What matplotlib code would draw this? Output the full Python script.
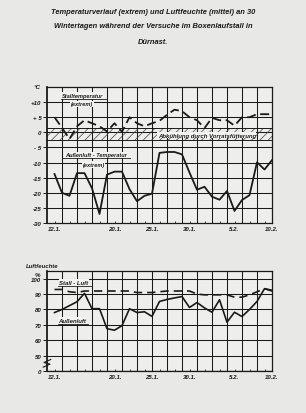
import numpy as np
import matplotlib.pyplot as plt

# days from 12.1. to 10.2.
days = np.arange(30)
tick_pos = [0, 8, 13, 18, 24, 29]
tick_lab = ['12.1.', '20.1.', '25.1.', '30.1.', '5.2.', '10.2.']

stall_temp = [5, 1.5, -2.2, 2, 4, 3, 2, 0.3, 3, 0.2, 5, 3, 2, 3, 3.8, 5.8, 7.5, 7,
              5, 4, 1.4, 4.8, 4, 4, 2.2, 5, 5, 6, 6, 6]
aussen_temp = [-13.8, -20, -21, -13.5, -13.5, -18.5, -27, -14, -13, -13, -18.8, -22.8,
               -21, -20.3, -6.8, -6.5, -6.5, -7.3, -13.3, -19, -18, -21.3, -22.3, -19.4,
               -26, -22.4, -20.8, -9.9, -12.3, -9.2]

stall_rh = [93, 93, 91.5, 91, 92, 92, 92, 92, 92, 92, 92, 91, 91, 91, 91.5, 92, 92, 92,
            92, 90, 89.5, 89.5, 89.5, 89.5, 88, 88, 89.5, 91.5, 93.5, 92.5]
aussen_rh = [78, 80, 82.5, 85, 90.5, 80.5, 80.5, 67.5, 66.5, 69.5, 80.5, 78, 78.5, 75.5,
             85.2, 86.5, 87.5, 88.4, 81.3, 84.5, 81, 78.2, 86.3, 71.7, 78.2, 75.4, 80,
             85.2, 93.5, 92]

temp_ticks = [10, 5, 0, -5, -10, -15, -20, -25, -30]
temp_labels = ['+10', '+ 5', '0', '- 5', '-10', '-15', '-20', '-25', '-30']
rh_ticks = [40, 50, 60, 70, 80, 90, 100]
rh_labels = ['0', '50', '60', '70', '80', '90', '100']

bg = '#e8e8e6'
ink = '#1a1a1a'
plt.rcParams['font.family'] = 'Liberation Sans'
plt.rcParams['hatch.linewidth'] = 0.5
plt.rcParams['hatch.color'] = '#444444'
font = dict(weight='bold', style='italic', color=ink)

fig = plt.figure(figsize=(3.06, 4.14), dpi=100, facecolor=bg)

fig.text(0.5, 1 - 13 / 414, 'Temperaturverlauf (extrem) und Luftfeuchte (mittel) an 30',
         ha='center', va='center', fontsize=5.4, **font)
fig.text(0.5, 1 - 27 / 414, 'Wintertagen während der Versuche im Boxenlaufstall in',
         ha='center', va='center', fontsize=5.4, **font)
fig.text(0.5, 1 - 42 / 414, 'Dürnast.', ha='center', va='center', fontsize=5.4, **font)


def grid_axes(ax, ylo, yhi, ystep):
    ax.set_facecolor('#eeeeec')
    ax.set_xlim(-1, 29)
    ax.set_ylim(ylo, yhi)
    for d in np.arange(1, 29, 2):
        ax.axvline(d, color=ink, lw=0.75, zorder=1)
    for v in np.arange(ylo + ystep, yhi, ystep):
        ax.axhline(v, color=ink, lw=0.75, zorder=1)
    for s in ax.spines.values():
        s.set_linewidth(0.9)
        s.set_color(ink)
    ax.spines['left'].set_linewidth(1.3)
    ax.set_xticks(tick_pos)
    ax.set_xticklabels(tick_lab, fontsize=4.4, **font)
    ax.set_xticks(days, minor=True)
    ax.tick_params(axis='x', which='both', direction='in', length=1.5, width=0.6,
                   pad=2, color=ink, top=False)
    ax.tick_params(axis='y', direction='out', length=3, width=0.7, pad=1, color=ink)


# temperature chart
ax1 = fig.add_axes([47 / 306, 1 - 224 / 414, 225 / 306, 136 / 414])
grid_axes(ax1, -30, 15, 5)
ax1.set_yticks(temp_ticks)
ax1.set_yticklabels(temp_labels, fontsize=4.4, **font)
ax1.axhspan(-2.5, 1.5, facecolor='none', edgecolor='#444444', hatch='////', lw=0, zorder=2)
ax1.axhline(1.5, color=ink, lw=0.7, zorder=2)
ax1.axhline(-2.5, color=ink, lw=0.7, zorder=2)
ax1.plot(days, stall_temp, color=ink, lw=1.3, dashes=(5, 2.5), zorder=4)
ax1.plot(days, aussen_temp, color=ink, lw=1.3, zorder=4)

box = dict(facecolor='#f3f3f1', edgecolor='none', pad=0.6)
ax1.text(3.7, 12.1, 'Stalltemperatur', ha='center', va='center', fontsize=4.1,
         bbox=box, zorder=5, **font)
ax1.plot([0.9, 6.9], [11, 11], color=ink, lw=0.6, zorder=6)
ax1.text(3.7, 9.4, '(extrem)', ha='center', va='center', fontsize=4.1,
         bbox=box, zorder=5, **font)
ax1.text(5.5, -7.5, 'Außenluft - Temperatur', ha='center', va='center', fontsize=4.1,
         bbox=box, zorder=5, **font)
ax1.plot([1, 10.1], [-8.6, -8.6], color=ink, lw=0.6, zorder=6)
ax1.text(5.2, -10.6, '(extrem)', ha='center', va='center', fontsize=4.1,
         bbox=box, zorder=5, **font)
ax1.text(20.3, -0.9, 'Abkühlung durch Vorratsfütterung', ha='center', va='center',
         fontsize=4.3, bbox=dict(facecolor='#f3f3f1', edgecolor='none', pad=0.3),
         zorder=5, **font)
ax1.text(-2.3, 15, '°C', ha='center', va='center', fontsize=4.5, **font)

# humidity chart
ax2 = fig.add_axes([47 / 306, 1 - 372 / 414, 225 / 306, 100 / 414])
grid_axes(ax2, 40, 105, 10)
ax2.set_yticks(rh_ticks)
ax2.set_yticklabels(rh_labels, fontsize=4.4, **font)
ax2.axhline(40, color=ink, lw=0.9)
ax2.plot(days, stall_rh, color=ink, lw=1.2, dashes=(5, 3), zorder=4)
ax2.plot(days, aussen_rh, color=ink, lw=1.2, zorder=4)
ax2.text(2.6, 97.6, 'Stall - Luft', ha='center', va='center', fontsize=4.3,
         bbox=box, zorder=5, **font)
ax2.plot([0.4, 4.9], [95.2, 95.2], color=ink, lw=0.6, zorder=6)
ax2.text(2.4, 73, 'Außenluft', ha='center', va='center', fontsize=4.3,
         bbox=box, zorder=5, **font)
ax2.plot([0.4, 4.4], [70.3, 70.3], color=ink, lw=0.6, zorder=6)
ax2.text(-1.6, 108.5, 'Luftfeuchte', ha='center', va='center', fontsize=4.3,
         clip_on=False, **font)
ax2.text(-2.3, 102.8, '%', ha='center', va='center', fontsize=4.5, **font)
# axis break mark between 0 and 50
ax2.plot([-1.5, -0.6, -1.4, -0.5], [42.5, 44.5, 45.5, 47.5], color=ink, lw=0.8,
         clip_on=False, zorder=6)

fig.savefig('out.png', dpi=100, facecolor=bg)
